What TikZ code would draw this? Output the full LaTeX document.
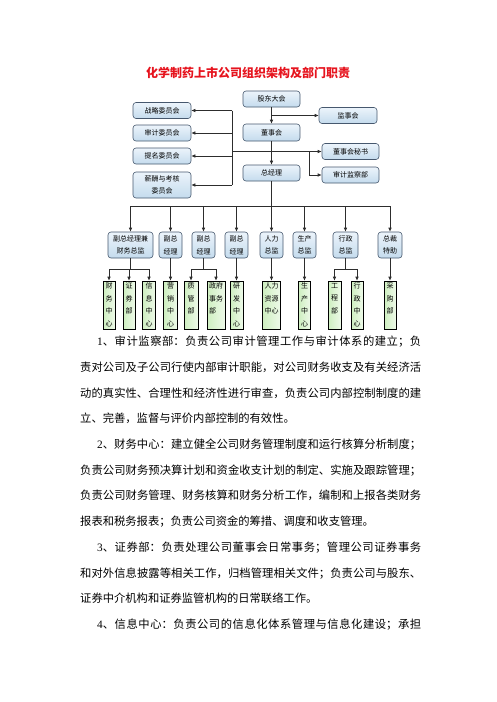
\documentclass[tikz,border=0pt]{standalone}
\usepackage{fontspec}
\setmainfont{Liberation Serif}
\newfontfamily\zhfont{Noto Sans CJK SC}
\newfontfamily\numfont{Liberation Serif}
\usepackage{tikz}
\usetikzlibrary{arrows.meta,calc}
\definecolor{titleRed}{RGB}{230, 20, 30}
\definecolor{boxBorder}{RGB}{70, 88, 110}
\definecolor{boxTop}{RGB}{236, 244, 251}
\definecolor{boxBottom}{RGB}{196, 219, 237}
\definecolor{deptGreen}{RGB}{206, 239, 192}
\definecolor{lineGray}{RGB}{45, 45, 45}

% text of a tall department box, set from the top
\newcommand{\vtext}[2]{\parbox[c][44pt][t]{#1}{\centering #2}}

\begin{document}
\begin{tikzpicture}[x=1pt,y=-1pt,
        orgbox/.style={draw=boxBorder,line width=0.6pt,rounded corners=3pt,
                       top color=boxTop,bottom color=boxBottom,
                       font=\zhfont\fontsize{7pt}{12.5pt}\selectfont,align=center,
                       inner sep=1pt,minimum width=57pt,minimum height=16pt},
        midbox/.style={orgbox,minimum width=23pt,minimum height=26pt},
        deptbox/.style={draw=black,line width=0.6pt,left color=deptGreen,right color=deptGreen!35!white,
                        font=\zhfont\fontsize{7pt}{12.5pt}\selectfont,inner xsep=0pt,inner ysep=2pt},
        link/.style={draw=lineGray,line width=0.6pt,-{Latex[length=4pt,width=3.5pt]}},
        wire/.style={draw=lineGray,line width=0.6pt}
    ]
    \useasboundingbox (0,0) rectangle (496,702);

    \node[font=\zhfont\bfseries\fontsize{12pt}{14pt}\selectfont,text=titleRed] (title) at (248,73) {化学制药上市公司组织架构及部门职责};

    % board level
    \node[orgbox] (gudong) at (271.5,99) {股东大会};
    \node[orgbox,minimum width=58pt] (jianshi) at (348,115.5) {监事会};
    \node[orgbox,minimum height=17pt] (dongshi) at (271.5,132.5) {董事会};
    \node[orgbox] (mishu) at (350.5,151.5) {董事会秘书};
    \node[orgbox] (shenjibu) at (350.5,175) {审计监察部};
    \node[orgbox] (zongjingli) at (271.5,173) {总经理};
    \node[orgbox,minimum width=58pt] (zhanlue) at (162,110.5) {战略委员会};
    \node[orgbox,minimum width=58pt] (shenjiwei) at (162,133) {审计委员会};
    \node[orgbox,minimum width=58pt] (timing) at (162,156) {提名委员会};
    \node[orgbox,minimum width=58pt,minimum height=26pt] (xinchou) at (162,185) {薪酬与考核\\委员会};

    \draw[link] (gudong) -- (dongshi);
    \draw[link] (gudong.south |- jianshi.west) -- (jianshi.west);
    \draw[link] (dongshi) -- (zongjingli);
    \coordinate (weiBus) at (232,151.5);
    \coordinate (jianchaBus) at (309,151.5);
    \draw[wire] (weiBus |- zhanlue.east) -- (weiBus |- xinchou.east);
    \foreach \w in {zhanlue,shenjiwei,timing,xinchou}
        \draw[link] (weiBus |- \w.east) -- (\w.east);
    \draw[link] (weiBus) -- (mishu.west);
    \draw[link] (jianchaBus) |- (shenjibu.west);

    % managers
    \node[midbox,minimum width=45pt] (fuCaiwu) at (130.5,245) {副总经理兼\\财务总监};
    \node[midbox] (fuA) at (170.5,245) {副总\\经理};
    \node[midbox] (fuB) at (203.5,245) {副总\\经理};
    \node[midbox] (fuC) at (236.5,245) {副总\\经理};
    \node[midbox] (renli) at (271.5,245) {人力\\总监};
    \node[midbox] (shengchan) at (304.5,245) {生产\\总监};
    \node[midbox,minimum width=25pt] (xingzheng) at (345.5,245) {行政\\总监};
    \node[midbox,minimum width=24pt] (tezhu) at (390,245) {总裁\\特助};

    \coordinate (fenBus) at (271.5,206);
    \draw[wire] (zongjingli.south) -- (fenBus);
    \draw[wire] (fenBus -| fuCaiwu) -- (fenBus -| tezhu);
    \foreach \m in {fuCaiwu,fuA,fuB,fuC,renli,shengchan,xingzheng,tezhu}
        \draw[link] (fenBus -| \m.north) -- (\m.north);

    % departments
    \node[deptbox] (caiwu) at (109,305) {\vtext{12pt}{财\\务\\中\\心}};
    \node[deptbox] (zhengquan) at (129,305) {\vtext{12pt}{证\\券\\部}};
    \node[deptbox] (xinxi) at (149,305) {\vtext{13pt}{信\\息\\中\\心}};
    \node[deptbox] (yingxiao) at (170.5,305) {\vtext{14pt}{营\\销\\中\\心}};
    \node[deptbox] (zhiguan) at (191,305) {\vtext{14pt}{质\\管\\部}};
    \node[deptbox] (zhengfu) at (216,305) {\vtext{18pt}{政府\\事务\\部\phantom{部}}};
    \node[deptbox] (yanfa) at (236.5,305) {\vtext{13pt}{研\\发\\中\\心}};
    \node[deptbox] (renliziyuan) at (271.5,305) {\vtext{18pt}{人力\\资源\\中心}};
    \node[deptbox] (shengchanzx) at (304.5,305) {\vtext{12pt}{生\\产\\中\\心}};
    \node[deptbox] (gongcheng) at (334.5,305) {\vtext{13pt}{工\\程\\部}};
    \node[deptbox] (xingzhengzx) at (357,305) {\vtext{12pt}{行\\政\\中\\心}};
    \node[deptbox] (caigou) at (390,305) {\vtext{12pt}{采\\购\\部}};

    \coordinate (caiBus) at (130.5,269);
    \coordinate (zhiBus) at (203.5,269);
    \coordinate (xingBus) at (345.5,269);
    \draw[wire] (fuCaiwu.south) -- (caiBus);
    \draw[wire] (caiBus -| caiwu) -- (caiBus -| xinxi);
    \foreach \d in {caiwu,zhengquan,xinxi}
        \draw[link] (caiBus -| \d.north) -- (\d.north);
    \draw[wire] (fuB.south) -- (zhiBus);
    \draw[wire] (zhiBus -| zhiguan) -- (zhiBus -| zhengfu);
    \foreach \d in {zhiguan,zhengfu}
        \draw[link] (zhiBus -| \d.north) -- (\d.north);
    \draw[wire] (xingzheng.south) -- (xingBus);
    \draw[wire] (xingBus -| gongcheng) -- (xingBus -| xingzhengzx);
    \foreach \d in {gongcheng,xingzhengzx}
        \draw[link] (xingBus -| \d.north) -- (\d.north);
    \draw[link] (fuA) -- (yingxiao);
    \draw[link] (fuC) -- (yanfa);
    \draw[link] (renli) -- (renliziyuan);
    \draw[link] (shengchan) -- (shengchanzx);
    \draw[link] (tezhu) -- (caigou);

    % duties text
    \node[anchor=north west,inner sep=0pt,text width=341pt,align=justify,
          font={\zhfont\fontsize{11.3pt}{25.7pt}\selectfont\XeTeXlinebreaklocale "zh"\XeTeXlinebreakskip=0pt plus 1.5pt}]
          (duties) at (80,336) {\parindent=0pt
        \hspace*{17pt}{\numfont 1}、审计监察部：负责公司审计管理工作与审计体系的建立；负\linebreak%
        责对公司及子公司行使内部审计职能，对公司财务收支及有关经济活\linebreak%
        动的真实性、合理性和经济性进行审查，负责公司内部控制制度的建\linebreak%
        立、完善，监督与评价内部控制的有效性。\par
        \hspace*{17pt}{\numfont 2}、财务中心：建立健全公司财务管理制度和运行核算分析制度；\linebreak%
        负责公司财务预决算计划和资金收支计划的制定、实施及跟踪管理；\linebreak%
        负责公司财务管理、财务核算和财务分析工作，编制和上报各类财务\linebreak%
        报表和税务报表；负责公司资金的筹措、调度和收支管理。\par
        \hspace*{17pt}{\numfont 3}、证券部：负责处理公司董事会日常事务；管理公司证券事务\linebreak%
        和对外信息披露等相关工作，归档管理相关文件；负责公司与股东、\linebreak%
        证券中介机构和证券监管机构的日常联络工作。\par
        \hspace*{17pt}{\numfont 4}、信息中心：负责公司的信息化体系管理与信息化建设；承担\linebreak};
\end{tikzpicture}
\end{document}
